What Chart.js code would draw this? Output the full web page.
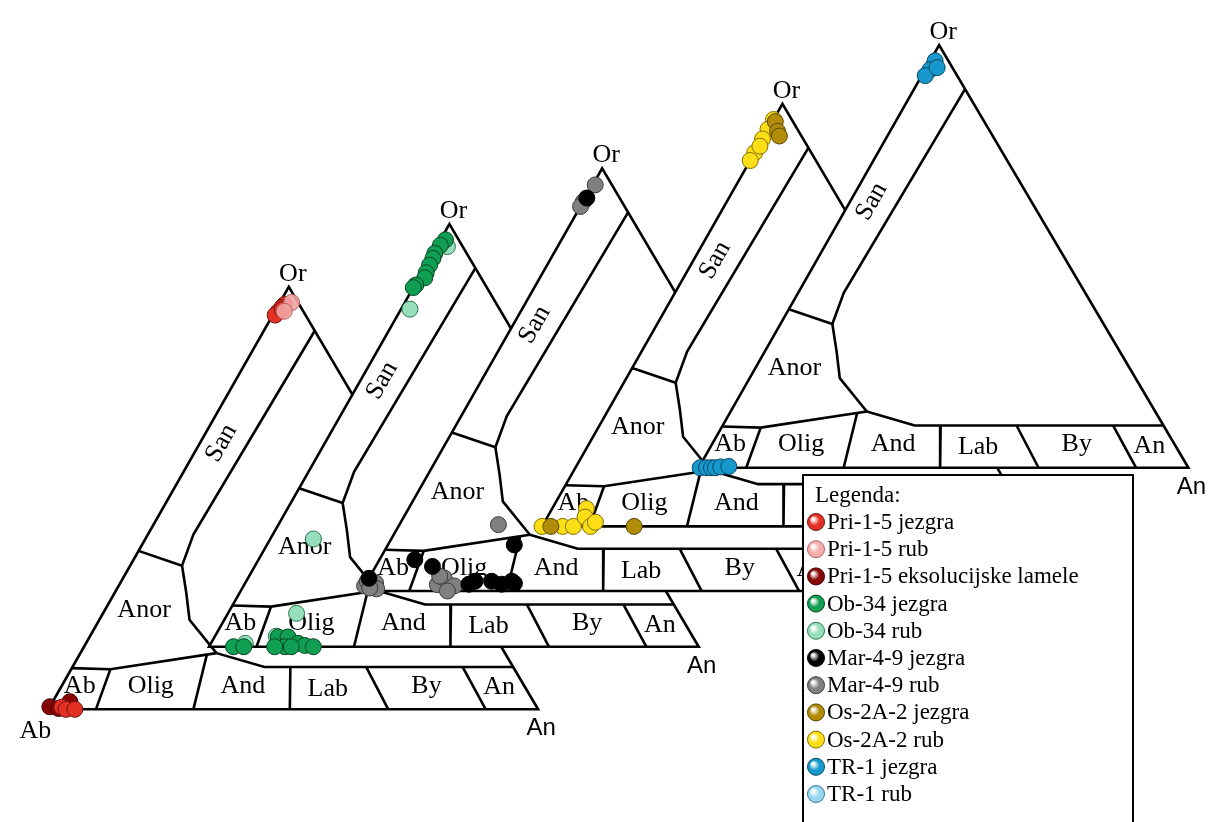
<!DOCTYPE html>
<html>
<head>
<meta charset="utf-8">
<script src="https://cdn.jsdelivr.net/npm/chart.js@4.4.1/dist/chart.umd.min.js"></script>
<style>
  html, body { margin: 0; padding: 0; background: #fff; }
  #wrap { width: 1224px; height: 822px; position: relative; }
</style>
</head>
<body>
<div id="wrap"><canvas id="myChart"></canvas></div>
<script>
// ---- samples (points are [An %, Or %]) ----
const sampleNames = [
  'Pri-1-5 jezgra', 'Pri-1-5 rub', 'Pri-1-5 eksolucijske lamele',
  'Ob-34 jezgra', 'Ob-34 rub',
  'Mar-4-9 jezgra', 'Mar-4-9 rub',
  'Os-2A-2 jezgra', 'Os-2A-2 rub',
  'TR-1 jezgra', 'TR-1 rub'
];
const sampleDiagram = [0, 0, 0, 1, 1, 2, 2, 3, 3, 4, 4];
const sampleLayer = [2, 3, 1, 2, 1, 2, 1, 2, 1, 2, 1]; // higher = drawn on top

const priCore = [[1.2, 95.8], [1.0, 95.1], [0.7, 94.0], [0.5, 93.3], [1.3, 94.6], [2.5, 0.5], [3.6, 0], [5.4, 0]];
const priRim = [[2.4, 96.3], [1.9, 94.2]];
const priLamellae = [[0, 0.6], [2.0, 0.2], [3.5, 1.8]];

const obCore = [[1.0, 96.3], [0.6, 95.0], [0.4, 93.1], [0.6, 91.9], [0.7, 90.3], [0.9, 88.5], [1.2, 87.3], [0.2, 85.6], [0, 85.0],
  [5.0, 0], [7.1, 0], [13.0, 2.3], [15.0, 2.3], [17.8, 0.8], [19.4, 0.3], [21.3, 0], [15.5, 0], [13.4, 0], [16.8, 0]];
const obRim = [[2.2, 94.7], [1.8, 79.9], [8.8, 25.5], [14.0, 7.9], [7.0, 0.8], [12.5, 2.5]];

const marCore = [[0.3, 93.0], [0, 3.0], [7.2, 7.4], [11.6, 5.8], [25.8, 10.9], [21.1, 1.6], [22.0, 2.3],
  [25.4, 2.3], [27.8, 1.6], [29.5, 2.3], [30.3, 1.8]];
const marRim = [[0.5, 96.1], [0, 92.1], [0, 91.0], [0, 1.2], [0, 2.3], [1.9, 1.9], [2.8, 0.5], [1.3, 0.7],
  [14.7, 1.5], [15.3, 3.1], [18.3, 1.2], [17.5, 0], [14.2, 3.5], [20.2, 15.7]];

const osCore = [[0.6, 95.8], [2.2, 93.5], [3.1, 92.4], [1.8, 0], [18.8, 0]];
const osRim = [[0, 96.3], [0, 94.0], [0, 91.7], [0, 88.4], [0, 86.6], [0.3, 90.0],
  [0, 0], [4.2, 0], [6.4, 0], [7.0, 4.2], [7.7, 2.2], [9.9, 0], [10.4, 1.0]];

const trCore = [[1.0, 96.3], [1.0, 94.2], [0.7, 92.8], [2.2, 94.7], [0.3, 0], [1.6, 0], [2.6, 0], [3.4, 0], [4.4, 0.2], [6.0, 0.3]];
const trRim = [[1.2, 95.2]];

const sampleValues = [priCore, priRim, priLamellae, obCore, obRim, marCore, marRim, osCore, osRim, trCore, trRim];

// ---- diagram template (An %, Or %) ----
const frameCorners = [[0, 0], [100, 0], [0, 100], [0, 0], [100, 0]];
const fieldLines = [
  [[10.4, 89.6], [9.3, 41.4], [10.6, 34.0]],
  [[0, 37.5], [10.6, 34.0]],
  [[10.6, 34.0], [14.6, 27.6], [18.4, 21.2], [27.8, 13.3]],
  [[0, 9.75], [8.0, 9.5], [27.8, 13.3]],
  [[27.8, 13.3], [39.2, 10.0], [90.0, 10.0]],
  [[8.0, 9.5], [9.7, 0]],
  [[26.0, 12.95], [29.6, 0]],
  [[44.5, 10.0], [49.3, 0]],
  [[60.0, 10.0], [69.4, 0]],
  [[79.7, 10.0], [89.3, 0]]
];
const fieldNames = ['Anor', 'Ab', 'Olig', 'And', 'Lab', 'By', 'An'];
const fieldNameAt = [[8, 23.5], [3.7, 5.5], [18.2, 5.5], [37, 5.5], [54.7, 4.8], [74.5, 5.5], [89.5, 5.2]];
const sanAt = [4.4, 63];

// ---- layout of the five stacked diagrams ----
const SIDE = 497, APEX_DX = 244, HEIGHT = 432;
const diagramAb = [[40, 716], [203, 652], [358, 595], [541, 529], [700, 469]];

const pointColors = ['rgb(228,48,36)', 'rgba(243,165,165,0.9)', 'rgb(135,5,5)', 'rgb(16,158,82)', 'rgb(150,222,188)',
  'rgb(0,0,0)', 'rgb(128,128,128)', 'rgb(176,140,8)', 'rgb(252,222,22)', 'rgb(22,152,205)', 'rgb(150,215,240)'];
const pointBorders = ['rgb(110,20,15)', 'rgb(185,95,95)', 'rgb(60,0,0)', 'rgb(10,70,35)', 'rgb(40,120,80)',
  'rgb(0,0,0)', 'rgb(60,60,60)', 'rgb(90,70,0)', 'rgb(130,110,0)', 'rgb(10,70,100)', 'rgb(60,120,150)'];

function toXY(d, an, or) {
  const o = diagramAb[d];
  return { x: o[0] + an / 100 * SIDE + or / 100 * APEX_DX, y: o[1] - or / 100 * HEIGHT };
}

// diagram datasets listed in drawing sequence (first = bottom)
const seq = [];
for (let d = 0; d < diagramAb.length; d++) {
  seq.push({
    data: frameCorners.map(p => toXY(d, p[0], p[1])),
    showLine: true, pointRadius: 0, borderColor: '#000', borderWidth: 2.6,
    paperFill: '#ffffff'
  });
  fieldLines.forEach((line, k) => {
    seq.push({
      data: line.map(p => toXY(d, p[0], p[1])),
      showLine: true, pointRadius: 0, borderColor: '#000', borderWidth: 2.6,
      labelsFor: k === fieldLines.length - 1 ? d : undefined
    });
  });
}
seq.forEach((ds, i) => { ds.order = 10 + seq.length - i; });

sampleValues.forEach((vals, s) => {
  seq.push({
    label: sampleNames[s],
    sample: true,
    order: 5 - sampleLayer[s],
    data: vals.map(p => toXY(sampleDiagram[s], p[0], p[1])),
    pointRadius: 8, pointBorderWidth: 1,
    backgroundColor: pointColors[s], borderColor: pointBorders[s],
    pointBackgroundColor: pointColors[s], pointBorderColor: pointBorders[s]
  });
});

function drawDiagramText(chart, d) {
  const ctx = chart.ctx, xs = chart.scales.x, ys = chart.scales.y;
  const px = (an, or) => {
    const p = toXY(d, an, or);
    return [xs.getPixelForValue(p.x), ys.getPixelForValue(p.y)];
  };
  ctx.save();
  ctx.fillStyle = '#000';
  ctx.textAlign = 'center';
  ctx.textBaseline = 'middle';
  ctx.font = '26px "Liberation Serif"';
  fieldNames.forEach((name, i) => {
    const [x, y] = px(fieldNameAt[i][0], fieldNameAt[i][1]);
    ctx.fillText(name, x, y);
  });
  const [sx, sy] = px(sanAt[0], sanAt[1]);
  ctx.save();
  ctx.translate(sx, sy);
  ctx.rotate(Math.atan2(-HEIGHT, APEX_DX));
  ctx.fillText('San', 0, 0);
  ctx.restore();

  ctx.textBaseline = 'alphabetic';
  ctx.font = '26px "Liberation Serif"';
  const [ox, oy] = px(0, 100);
  ctx.fillText('Or', ox + 4, oy - 6);
  if (d === 0) {
    const [ax, ay] = px(0, 0);
    ctx.fillText('Ab', ax - 13, ay + 29);
  }
  ctx.font = '24px "Liberation Sans"';
  const [nx, ny] = px(100, 0);
  ctx.fillText('An', nx + 3, ny + 26);
  ctx.restore();
}

const diagramPlugin = {
  id: 'diagramPlugin',
  beforeDatasetDraw(chart, args) {
    const ds = chart.data.datasets[args.index];
    if (!ds.paperFill) return;
    const ctx = chart.ctx;
    const pts = args.meta.data;
    ctx.save();
    ctx.beginPath();
    pts.forEach((p, i) => (i ? ctx.lineTo(p.x, p.y) : ctx.moveTo(p.x, p.y)));
    ctx.closePath();
    ctx.fillStyle = ds.paperFill;
    ctx.fill();
    ctx.restore();
  },
  afterDatasetDraw(chart, args) {
    const ds = chart.data.datasets[args.index];
    if (ds.labelsFor !== undefined) drawDiagramText(chart, ds.labelsFor);
  }
};

const legendBox = {
  id: 'legendBox',
  afterDraw(chart) {
    const ctx = chart.ctx;
    const left = 803, top = 475;
    ctx.save();
    ctx.fillStyle = '#fff';
    ctx.fillRect(left, top, 330, 360);
    ctx.strokeStyle = '#000';
    ctx.lineWidth = 2;
    ctx.strokeRect(left, top, 330, 360);
    ctx.fillStyle = '#000';
    ctx.textAlign = 'left';
    ctx.textBaseline = 'middle';
    ctx.font = '23px "Liberation Serif"';
    ctx.fillText('Legenda:', left + 12, top + 21);
    chart.data.datasets.filter(ds => ds.sample).forEach((ds, i) => {
      const cy = top + 47 + i * 27.2;
      const cx = left + 13;
      const g = ctx.createRadialGradient(cx - 3, cy - 3, 1, cx, cy, 9);
      g.addColorStop(0, 'rgba(255,255,255,0.85)');
      g.addColorStop(0.5, ds.backgroundColor);
      g.addColorStop(1, ds.backgroundColor);
      ctx.beginPath();
      ctx.arc(cx, cy, 8.5, 0, Math.PI * 2);
      ctx.fillStyle = g;
      ctx.fill();
      ctx.lineWidth = 1;
      ctx.strokeStyle = ds.borderColor;
      ctx.stroke();
      ctx.fillStyle = '#000';
      ctx.fillText(ds.label, cx + 11, cy + 1);
    });
    ctx.restore();
  }
};

const ctx = document.getElementById('myChart').getContext('2d');
const myChart = new Chart(ctx, {
  type: 'scatter',
  data: { datasets: seq },
  options: {
    responsive: true,
    maintainAspectRatio: false,
    animation: false,
    events: [],
    layout: { padding: 0 },
    scales: {
      x: { type: 'linear', min: 0, max: 1224, display: false },
      y: { type: 'linear', min: 0, max: 822, reverse: true, display: false }
    },
    plugins: {
      legend: { display: false },
      tooltip: { enabled: false }
    }
  },
  plugins: [diagramPlugin, legendBox]
});
</script>
</body>
</html>
